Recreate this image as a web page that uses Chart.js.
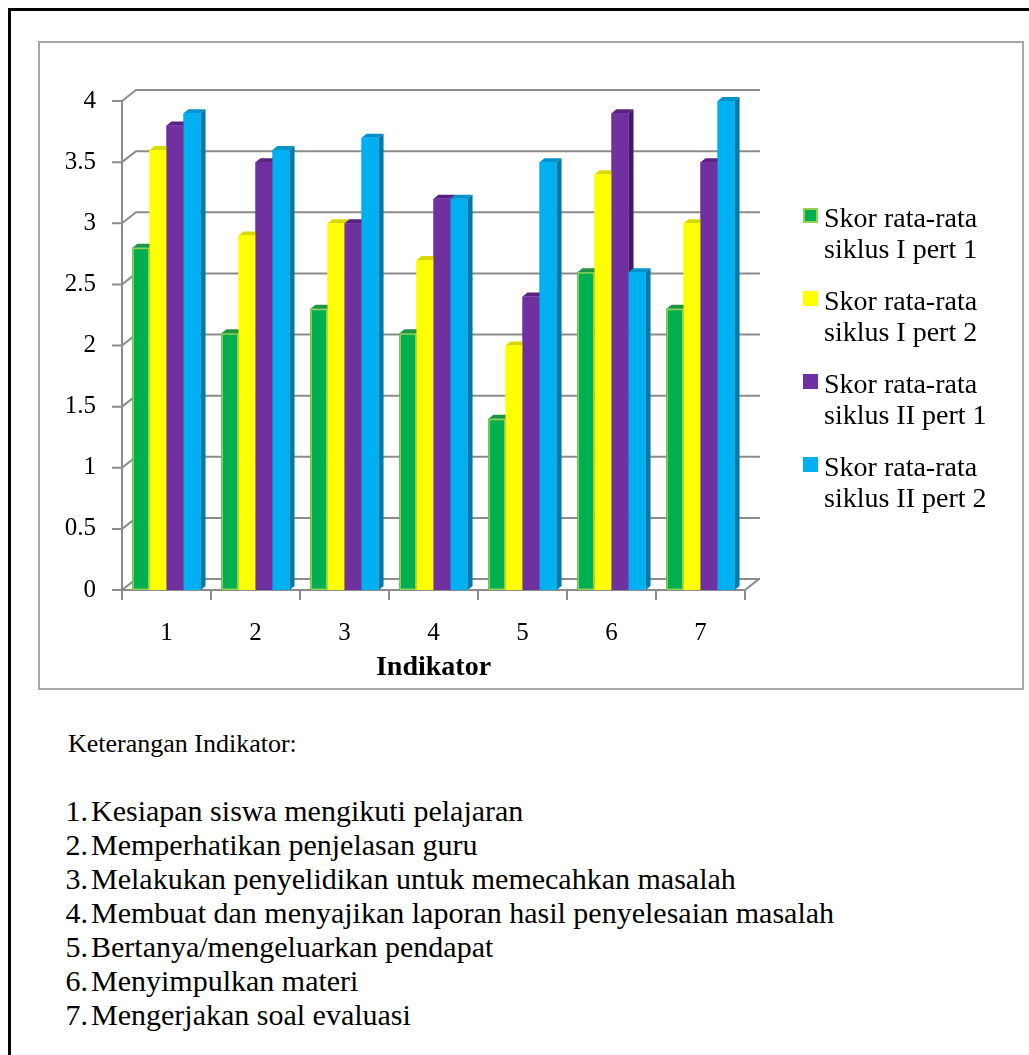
<!DOCTYPE html>
<html>
<head>
<meta charset="utf-8">
<script src="https://cdn.jsdelivr.net/npm/chart.js@4.4.1/dist/chart.umd.min.js"></script>
<style>
html, body { margin: 0; overflow: hidden; background: #fff; }
body { font-family: "Liberation Serif", "Times New Roman", serif; color: #000; }
#bingkai { position: absolute; left: 8px; top: 8px; width: 1060px; height: 1080px; border: 3px solid #000; }
#kotak { position: absolute; left: 38px; top: 41px; width: 982px; height: 645px; border: 2px solid #a6a6a6; }
#graf { display: block; }
#legenda { position: absolute; left: 803px; top: 202px; font-size: 28px; line-height: 31px; }
.item { position: absolute; left: 0; width: 220px; }
.kotak-warna { position: absolute; left: 0; top: 6px; width: 15px; height: 15px; box-sizing: border-box; }
.teks { position: absolute; left: 21px; top: 0; white-space: nowrap; }
#judul-ket { position: absolute; left: 68px; top: 727px; font-size: 26px; line-height: 34px; }
#daftar { position: absolute; left: 0; top: 794px; font-size: 30px; line-height: 34px; }
.baris { position: relative; height: 34px; white-space: nowrap; }
.no { position: absolute; left: 30px; width: 58px; text-align: right; }
.isi { position: absolute; left: 91px; }
</style>
</head>
<body>
<div id="bingkai"></div>
<div id="kotak"><canvas id="graf" width="982" height="645"></canvas></div>
<div id="legenda"></div>
<div id="judul-ket">Keterangan Indikator:</div>
<div id="daftar"></div>

<script>
const indikator = ['1', '2', '3', '4', '5', '6', '7']
const siklus1Pert1 = [2.8, 2.1, 2.3, 2.1, 1.4, 2.6, 2.3]
const siklus1Pert2 = [3.6, 2.9, 3.0, 2.7, 2.0, 3.4, 3.0]
const siklus2Pert1 = [3.8, 3.5, 3.0, 3.2, 2.4, 3.9, 3.5]
const siklus2Pert2 = [3.9, 3.6, 3.7, 3.2, 3.5, 2.6, 4.0]
const tickY = [0, 0.5, 1, 1.5, 2, 2.5, 3, 3.5, 4]

const namaSeri = [
    ['Skor rata-rata', 'siklus I pert 1'],
    ['Skor rata-rata', 'siklus I pert 2'],
    ['Skor rata-rata', 'siklus II pert 1'],
    ['Skor rata-rata', 'siklus II pert 2']
]

const keterangan = [
    'Kesiapan siswa mengikuti pelajaran',
    'Memperhatikan penjelasan guru',
    'Melakukan penyelidikan untuk memecahkan masalah',
    'Membuat dan menyajikan laporan hasil penyelesaian masalah',
    'Bertanya/mengeluarkan pendapat',
    'Menyimpulkan materi',
    'Mengerjakan soal evaluasi'
]

// warna depan, samping, atas tiap batang
const warna = [
    { depan: '#00b050', samping: '#00793a', atas: '#1f9443', garis: '#92d050' },
    { depan: '#ffff00', samping: '#c4c400', atas: '#d9d900', garis: null },
    { depan: '#7030a0', samping: '#47196b', atas: '#58237f', garis: null },
    { depan: '#00b0f0', samping: '#0079a8', atas: '#0093c9', garis: null }
]

const dx = 5
const dy = 4
const dalam = { x: 14, y: 11 }

// dinding belakang, garis grid miring dan lantai
const dinding3D = {
    id: 'dinding3D',
    beforeDatasetsDraw(chart) {
        let ctx = chart.ctx
        let { left, right, top, bottom } = chart.chartArea
        let sy = chart.scales.y
        ctx.save()
        ctx.strokeStyle = '#8c8c8c'
        ctx.lineWidth = 2
        ctx.lineCap = 'square'
        for (let i = 0; i < tickY.length; i++) {
            let y = sy.getPixelForValue(tickY[i])
            ctx.beginPath()
            ctx.moveTo(left - 9, y)
            ctx.lineTo(left, y)
            ctx.lineTo(left + dalam.x, y - dalam.y)
            ctx.lineTo(right + dalam.x, y - dalam.y)
            ctx.stroke()
        }
        ctx.beginPath()
        ctx.moveTo(left, top)
        ctx.lineTo(left, bottom)
        ctx.lineTo(right, bottom)
        ctx.lineTo(right + dalam.x, bottom - dalam.y)
        ctx.stroke()
        let lebar = (right - left) / indikator.length
        for (let i = 0; i <= indikator.length; i++) {
            let x = left + i * lebar
            ctx.beginPath()
            ctx.moveTo(x, bottom)
            ctx.lineTo(x, bottom + 9)
            ctx.stroke()
        }
        ctx.restore()
    },
    afterDatasetsDraw(chart) {
        let ctx = chart.ctx
        ctx.save()
        for (let j = 0; j < indikator.length; j++) {
            for (let k = 0; k < chart.data.datasets.length; k++) {
                let bar = chart.getDatasetMeta(k).data[j]
                let { x, y, base, width } = bar.getProps(['x', 'y', 'base', 'width'], true)
                let kiri = x - width / 2
                let kanan = x + width / 2
                let w = warna[k]

                ctx.fillStyle = w.atas
                ctx.beginPath()
                ctx.moveTo(kiri, y)
                ctx.lineTo(kiri + dx, y - dy)
                ctx.lineTo(kanan + dx, y - dy)
                ctx.lineTo(kanan, y)
                ctx.closePath()
                ctx.fill()

                ctx.fillStyle = w.samping
                ctx.beginPath()
                ctx.moveTo(kanan, y)
                ctx.lineTo(kanan + dx, y - dy)
                ctx.lineTo(kanan + dx, base - dy)
                ctx.lineTo(kanan, base)
                ctx.closePath()
                ctx.fill()

                ctx.fillStyle = w.depan
                ctx.fillRect(kiri, y, width, base - y)
                if (w.garis) {
                    ctx.strokeStyle = w.garis
                    ctx.lineWidth = 1.5
                    ctx.strokeRect(kiri + 0.75, y + 0.75, width - 1.5, base - y - 1.5)
                }
            }
        }
        ctx.restore()
    }
}

Chart.defaults.font.family = '"Liberation Serif", "Times New Roman", serif'
Chart.defaults.color = '#000'

const data = {
    labels: indikator,
    datasets: [siklus1Pert1, siklus1Pert2, siklus2Pert1, siklus2Pert2].map((nilai, i) => ({
        label: namaSeri[i].join(' '),
        data: nilai,
        backgroundColor: warna[i].depan,
        borderWidth: 0,
        categoryPercentage: 0.765,
        barPercentage: 1.0
    }))
}

const config = {
    type: 'bar',
    data: data,
    options: {
        responsive: false,
        animation: false,
        layout: { padding: { top: 58, right: 277, bottom: 0, left: 0 } },
        plugins: {
            legend: { display: false },
            tooltip: { enabled: false }
        },
        scales: {
            x: {
                grid: { display: false, drawTicks: false },
                border: { display: false },
                ticks: { font: { size: 25 }, padding: 28 },
                title: {
                    display: true,
                    text: 'Indikator',
                    font: { size: 28, weight: 'bold' },
                    padding: { top: 0, bottom: 3 }
                },
                afterFit: s => { s.height = 98 }
            },
            y: {
                min: 0,
                max: 4,
                grid: { display: false, drawTicks: false },
                border: { display: false },
                ticks: {
                    font: { size: 25 },
                    padding: 26,
                    callback: v => String(v)
                },
                afterBuildTicks: s => { s.ticks = tickY.map(v => ({ value: v })) },
                afterFit: s => { s.width = 82 }
            }
        }
    },
    plugins: [dinding3D]
}

new Chart(document.getElementById('graf').getContext('2d'), config)

// legenda di kanan
let legenda = document.getElementById('legenda')
for (let i = 0; i < namaSeri.length; i++) {
    let item = document.createElement('div')
    item.className = 'item'
    item.style.top = (i * 83) + 'px'
    let kotak = document.createElement('div')
    kotak.className = 'kotak-warna'
    kotak.style.background = warna[i].depan
    if (warna[i].garis) kotak.style.border = '2px solid ' + warna[i].garis
    let teks = document.createElement('div')
    teks.className = 'teks'
    teks.innerHTML = namaSeri[i].join('<br>')
    item.appendChild(kotak)
    item.appendChild(teks)
    legenda.appendChild(item)
}

// daftar keterangan indikator
let daftar = document.getElementById('daftar')
for (let i = 0; i < keterangan.length; i++) {
    let baris = document.createElement('div')
    baris.className = 'baris'
    baris.innerHTML = '<span class="no">' + (i + 1) + '.</span><span class="isi">' + keterangan[i] + '</span>'
    daftar.appendChild(baris)
}
</script>
</body>
</html>
